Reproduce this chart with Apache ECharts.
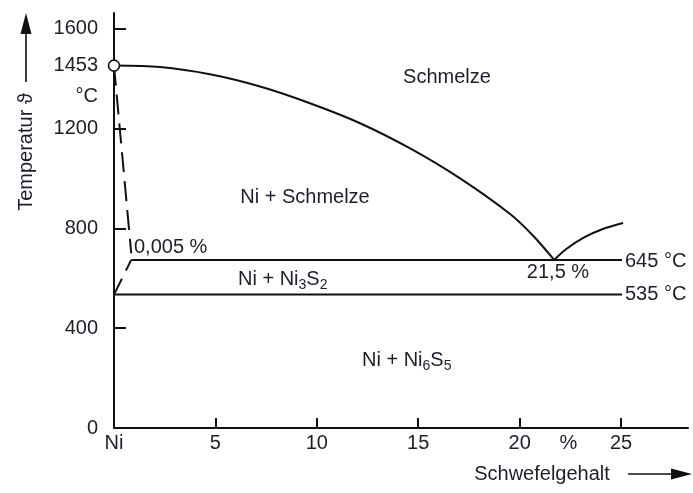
<!DOCTYPE html>
<html><head><meta charset="utf-8">
<script src="https://cdn.jsdelivr.net/npm/echarts@6/dist/echarts.min.js"></script>
<style>html,body{margin:0;padding:0;background:#fff}#c{width:693px;height:493px}</style>
</head><body><div id="c"></div>
<script>
// ---- data ----
const liquidusLeft  = [[0,1453],[2.27,1447],[4.73,1418],[7.20,1369],[9.66,1302],[12.13,1222],[14.60,1121],[17.06,1001],[19.53,858],[20.7,768],[21.7,674]];
const liquidusRight = [[21.7,674],[22.3,718],[23.2,765],[24.1,798],[25.1,822]];
const solidus       = [[0,1453],[0.85,700]];
const solvus        = [[0.85,674],[0,535]];
const eutecticLine  = [[0.86,674],[25.05,674]];
const line535       = [[0,535],[25.05,535]];
const meltingPoint  = [[0,1453]];

const xTickValues = [0,5,10,15,20,22.4,25];
const xTickLabels = ['Ni','5','10','15','20','%','25'];
const xTickMarks  = [5,10,15,20,25];
const yTickValues = [0,400,800,1200,1331,1453,1600];
const yTickLabels = ['0','400','800','1200','°C','1453','1600'];
const yTickMarks  = [400,800,1200,1600];

// ---- styling ----
const FONT = '"Liberation Sans", Arial, sans-serif';
const TXT = '#1c1e2c';
const INK = '#111';
const FS = 20;

const chart = echarts.init(document.getElementById('c'), null, {renderer:'canvas'});

function lineSeries(data, opts) {
  return Object.assign({
    type:'line', data, showSymbol:false, symbol:'none', silent:true,
    lineStyle:{color:INK, width:2}, animation:false, z:3
  }, opts || {});
}

const txt = (x, y, text, align, extra) => Object.assign({
  type:'text', x, y, silent:true,
  style:{text, fill:TXT, fontSize:FS, fontFamily:FONT, align:align||'center', verticalAlign:'middle'}
}, extra || {});

const sub = (x, y, parts) => ({
  type:'text', x, y, silent:true,
  style:{
    text: parts, fill:TXT, fontFamily:FONT, fontSize:FS, align:'left', verticalAlign:'middle',
    rich:{
      a:{fontSize:FS, fontFamily:FONT, fill:TXT, lineHeight:27, verticalAlign:'middle'},
      s:{fontSize:14, fontFamily:FONT, fill:TXT, lineHeight:14, verticalAlign:'bottom'}
    }
  }
});

const option = {
  animation:false,
  backgroundColor:'#fff',
  grid:{left:114, right:5, top:13, bottom:65, containLabel:false},
  xAxis:{
    type:'value', min:0, max:28.3,
    axisLine:{show:true, lineStyle:{color:INK, width:2}},
    axisTick:{show:true, inside:true, length:10, lineStyle:{color:INK, width:2}, customValues:xTickMarks},
    axisLabel:{show:true, margin:5, color:TXT, fontSize:FS, fontFamily:FONT, customValues:xTickValues,
      formatter:(v)=>{ const i = xTickValues.indexOf(v); return i>=0 ? xTickLabels[i] : ''; }},
    splitLine:{show:false}
  },
  yAxis:{
    type:'value', min:0, max:1664,
    axisLine:{show:true, lineStyle:{color:INK, width:2}},
    axisTick:{show:true, inside:true, length:12, lineStyle:{color:INK, width:2}, customValues:yTickMarks},
    axisLabel:{show:true, margin:16, color:TXT, fontSize:FS, fontFamily:FONT, customValues:yTickValues,
      formatter:(v)=>{ const i = yTickValues.indexOf(v); return i>=0 ? yTickLabels[i] : ''; }},
    splitLine:{show:false}
  },
  series:[
    lineSeries(liquidusLeft, {smooth:0.3, name:'Liquidus'}),
    lineSeries(liquidusRight, {smooth:0.3, name:'Liquidus S'}),
    lineSeries(solidus, {name:'Solidus', lineStyle:{color:INK, width:2, type:[20,9]}}),
    lineSeries(solvus, {name:'Löslichkeit', lineStyle:{color:INK, width:2, type:[18,9], dashOffset:6}}),
    lineSeries(eutecticLine, {name:'645 °C'}),
    lineSeries(line535, {name:'535 °C'}),
    {type:'scatter', data:meltingPoint, symbol:'circle', symbolSize:11, silent:true, z:5,
     itemStyle:{color:'#fff', borderColor:INK, borderWidth:1.6, opacity:1}}
  ],
  graphic:[
    // y axis title with arrow
    txt(26, 152, 'Temperatur ϑ', 'center', {rotation:Math.PI/2}),
    {type:'line', silent:true, shape:{x1:26, y1:82, x2:26, y2:30}, style:{stroke:INK, lineWidth:1.6}},
    {type:'polygon', silent:true, shape:{points:[[26,13],[20.5,34],[31.5,34]]}, style:{fill:INK}},
    // x axis title with arrow
    txt(542, 474, 'Schwefelgehalt', 'center'),
    {type:'line', silent:true, shape:{x1:628, y1:474, x2:675, y2:474}, style:{stroke:INK, lineWidth:1.6}},
    {type:'polygon', silent:true, shape:{points:[[692,474],[671,468.5],[671,479.5]]}, style:{fill:INK}},
    // region labels
    txt(447, 77, 'Schmelze'),
    txt(305, 197, 'Ni + Schmelze'),
    txt(134, 247, '0,005 %', 'left'),
    sub(238, 279, '{a|Ni + Ni}{s|3}{a|S}{s|2}'),
    txt(558, 272, '21,5 %'),
    txt(625, 261, '645 °C', 'left'),
    txt(625, 294, '535 °C', 'left'),
    sub(362, 360, '{a|Ni + Ni}{s|6}{a|S}{s|5}')
  ]
};
chart.setOption(option);
</script>
</body></html>
